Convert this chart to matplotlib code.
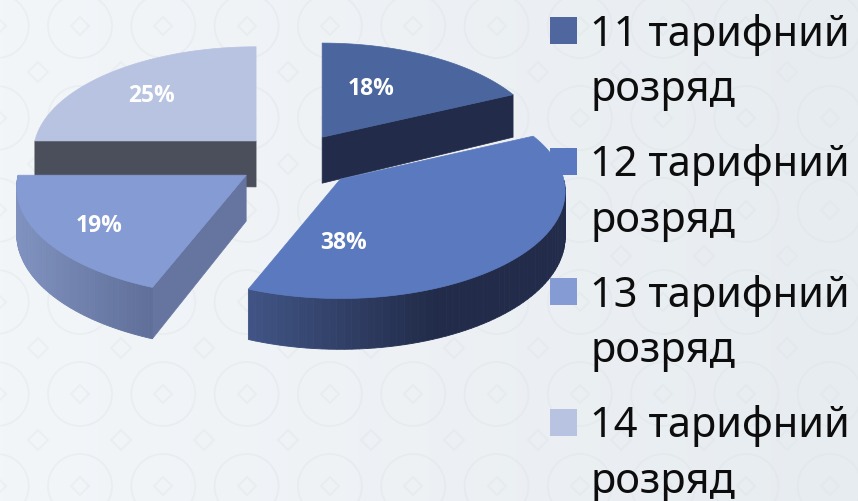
import numpy as np
import matplotlib
matplotlib.use("Agg")
import matplotlib.pyplot as plt
from matplotlib.colors import to_rgb
from matplotlib.patches import Circle, Rectangle

labels = ["11 тарифний\nрозряд", "12 тарифний\nрозряд", "13 тарифний\nрозряд", "14 тарифний\nрозряд"]
values = [18, 38, 19, 25]

top_colors = ["#4b669e", "#5b79be", "#859bd3", "#b8c3e1"]
flat_colors = ["#222c4a", "#222c4a", "#66759f", "#4b4e5b"]
wall_left = ["#222c4a", "#415586", "#8092c0", "#4b4e5b"]
wall_right = ["#222c4a", "#222c4a", "#5f6f99", "#4b4e5b"]
legend_colors = ["#4f669f", "#5b79c0", "#859bd3", "#b8c3e1"]

# pie layout, in pixels
cx, cy = 290, 161
explode_x = [60, 69, 53, 48]
explode_y = [27, 28, 27, 27]
slice_scale = [0.97, 0.98, 1.0, 0.97]
rx, ry, depth, persp = 228, 108, 46, 0.113
label_pos = [(371, 89), (344, 243), (99, 226), (152, 96)]
draw_order = [3, 0, 2, 1]


def rim(i, ax_, ay_, theta):
    # perspective: the part near the viewer is drawn bigger
    x = np.sin(theta)
    y = -np.cos(theta)
    s = slice_scale[i] / (1 - persp * y)
    return ax_ + rx * x * s, ay_ + ry * y * s, s


def mix(a, b, t):
    a, b = np.array(to_rgb(a)), np.array(to_rgb(b))
    return tuple(a + (b - a) * t)


fig = plt.figure(figsize=(8.58, 5.02), dpi=100)
ax = fig.add_axes([0, 0, 1, 1])
ax.set_xlim(0, 858)
ax.set_ylim(502, 0)
ax.axis("off")

# background
grad = np.linspace(0, 1, 256).reshape(1, -1)
bg = np.array(to_rgb("#f3f6f9")) + grad[..., None] * (np.array(to_rgb("#e7ecf0")) - np.array(to_rgb("#f3f6f9")))
ax.imshow(bg, extent=(0, 858, 502, 0), aspect="auto", zorder=0)
for row in range(-1, 6):
    for col in range(-1, 11):
        px = 80 + col * 83.3
        py = 27 + row * 92
        ax.add_patch(Circle((px, py), 32, fill=False, ec="#d9dfe3", lw=1.3, alpha=0.3, zorder=1))
        ax.plot(px, py, marker="D", ms=9, mfc="none", mec="#d9dfe3", mew=1.3, alpha=0.3, zorder=1)
        ax.plot(px + 41, py + 46, marker="D", ms=10, mfc="none", mec="#d9dfe3", mew=1.3, alpha=0.3, zorder=1)

# slices
bounds = np.cumsum([0] + values) / sum(values) * 2 * np.pi
for z, i in enumerate(draw_order):
    a0, a1 = bounds[i], bounds[i + 1]
    mid = (a0 + a1) / 2
    ax_ = cx + explode_x[i] * np.sin(mid)
    ay_ = cy - explode_y[i] * np.cos(mid)
    theta = np.linspace(a0, a1, 80)
    xs, ys, ss = rim(i, ax_, ay_, theta)
    zo = 3 + z

    # flat cut faces
    for ang, visible in ((a0, np.sin(a0) < -1e-6), (a1, np.sin(a1) > 1e-6)):
        if visible:
            ex, ey, es = rim(i, ax_, ay_, ang)
            ax.fill([ax_, ex, ex, ax_], [ay_, ey, ey + depth * es, ay_ + depth],
                    color=flat_colors[i], lw=0.5, zorder=zo)

    # outer wall, only the part that faces the viewer
    front = np.where(np.cos(theta) < 0)[0]
    if len(front) > 1:
        left, right = xs[front].min(), xs[front].max()
        for j in front[:-1]:
            t = (xs[j] - left) / (right - left)
            if i == 1:
                t = min(1.0, t * 1.7)
            ax.fill([xs[j], xs[j + 1], xs[j + 1], xs[j]],
                    [ys[j], ys[j + 1], ys[j + 1] + depth * ss[j + 1], ys[j] + depth * ss[j]],
                    color=mix(wall_left[i], wall_right[i], t), lw=0.6, zorder=zo)

    # top
    ax.fill(np.r_[ax_, xs], np.r_[ay_, ys], color=top_colors[i], lw=0.5, zorder=zo + 0.5)

for i, (lx, ly) in enumerate(label_pos):
    ax.text(lx, ly, f"{values[i]}%", color="white", fontsize=16.5, fontweight="bold",
            family="Open Sans", ha="center", va="center", zorder=20)

# legend
for i, lab in enumerate(labels):
    y = 18 + 130.5 * i
    ax.add_patch(Rectangle((550, y), 27, 27, color=legend_colors[i], lw=0, zorder=2))
    ax.text(590, y - 4, lab, fontsize=30, family="Noto Sans", color="#0d0d0d", ha="left", va="top",
            linespacing=1.42, zorder=20)

fig.savefig("out.png", dpi=100)
